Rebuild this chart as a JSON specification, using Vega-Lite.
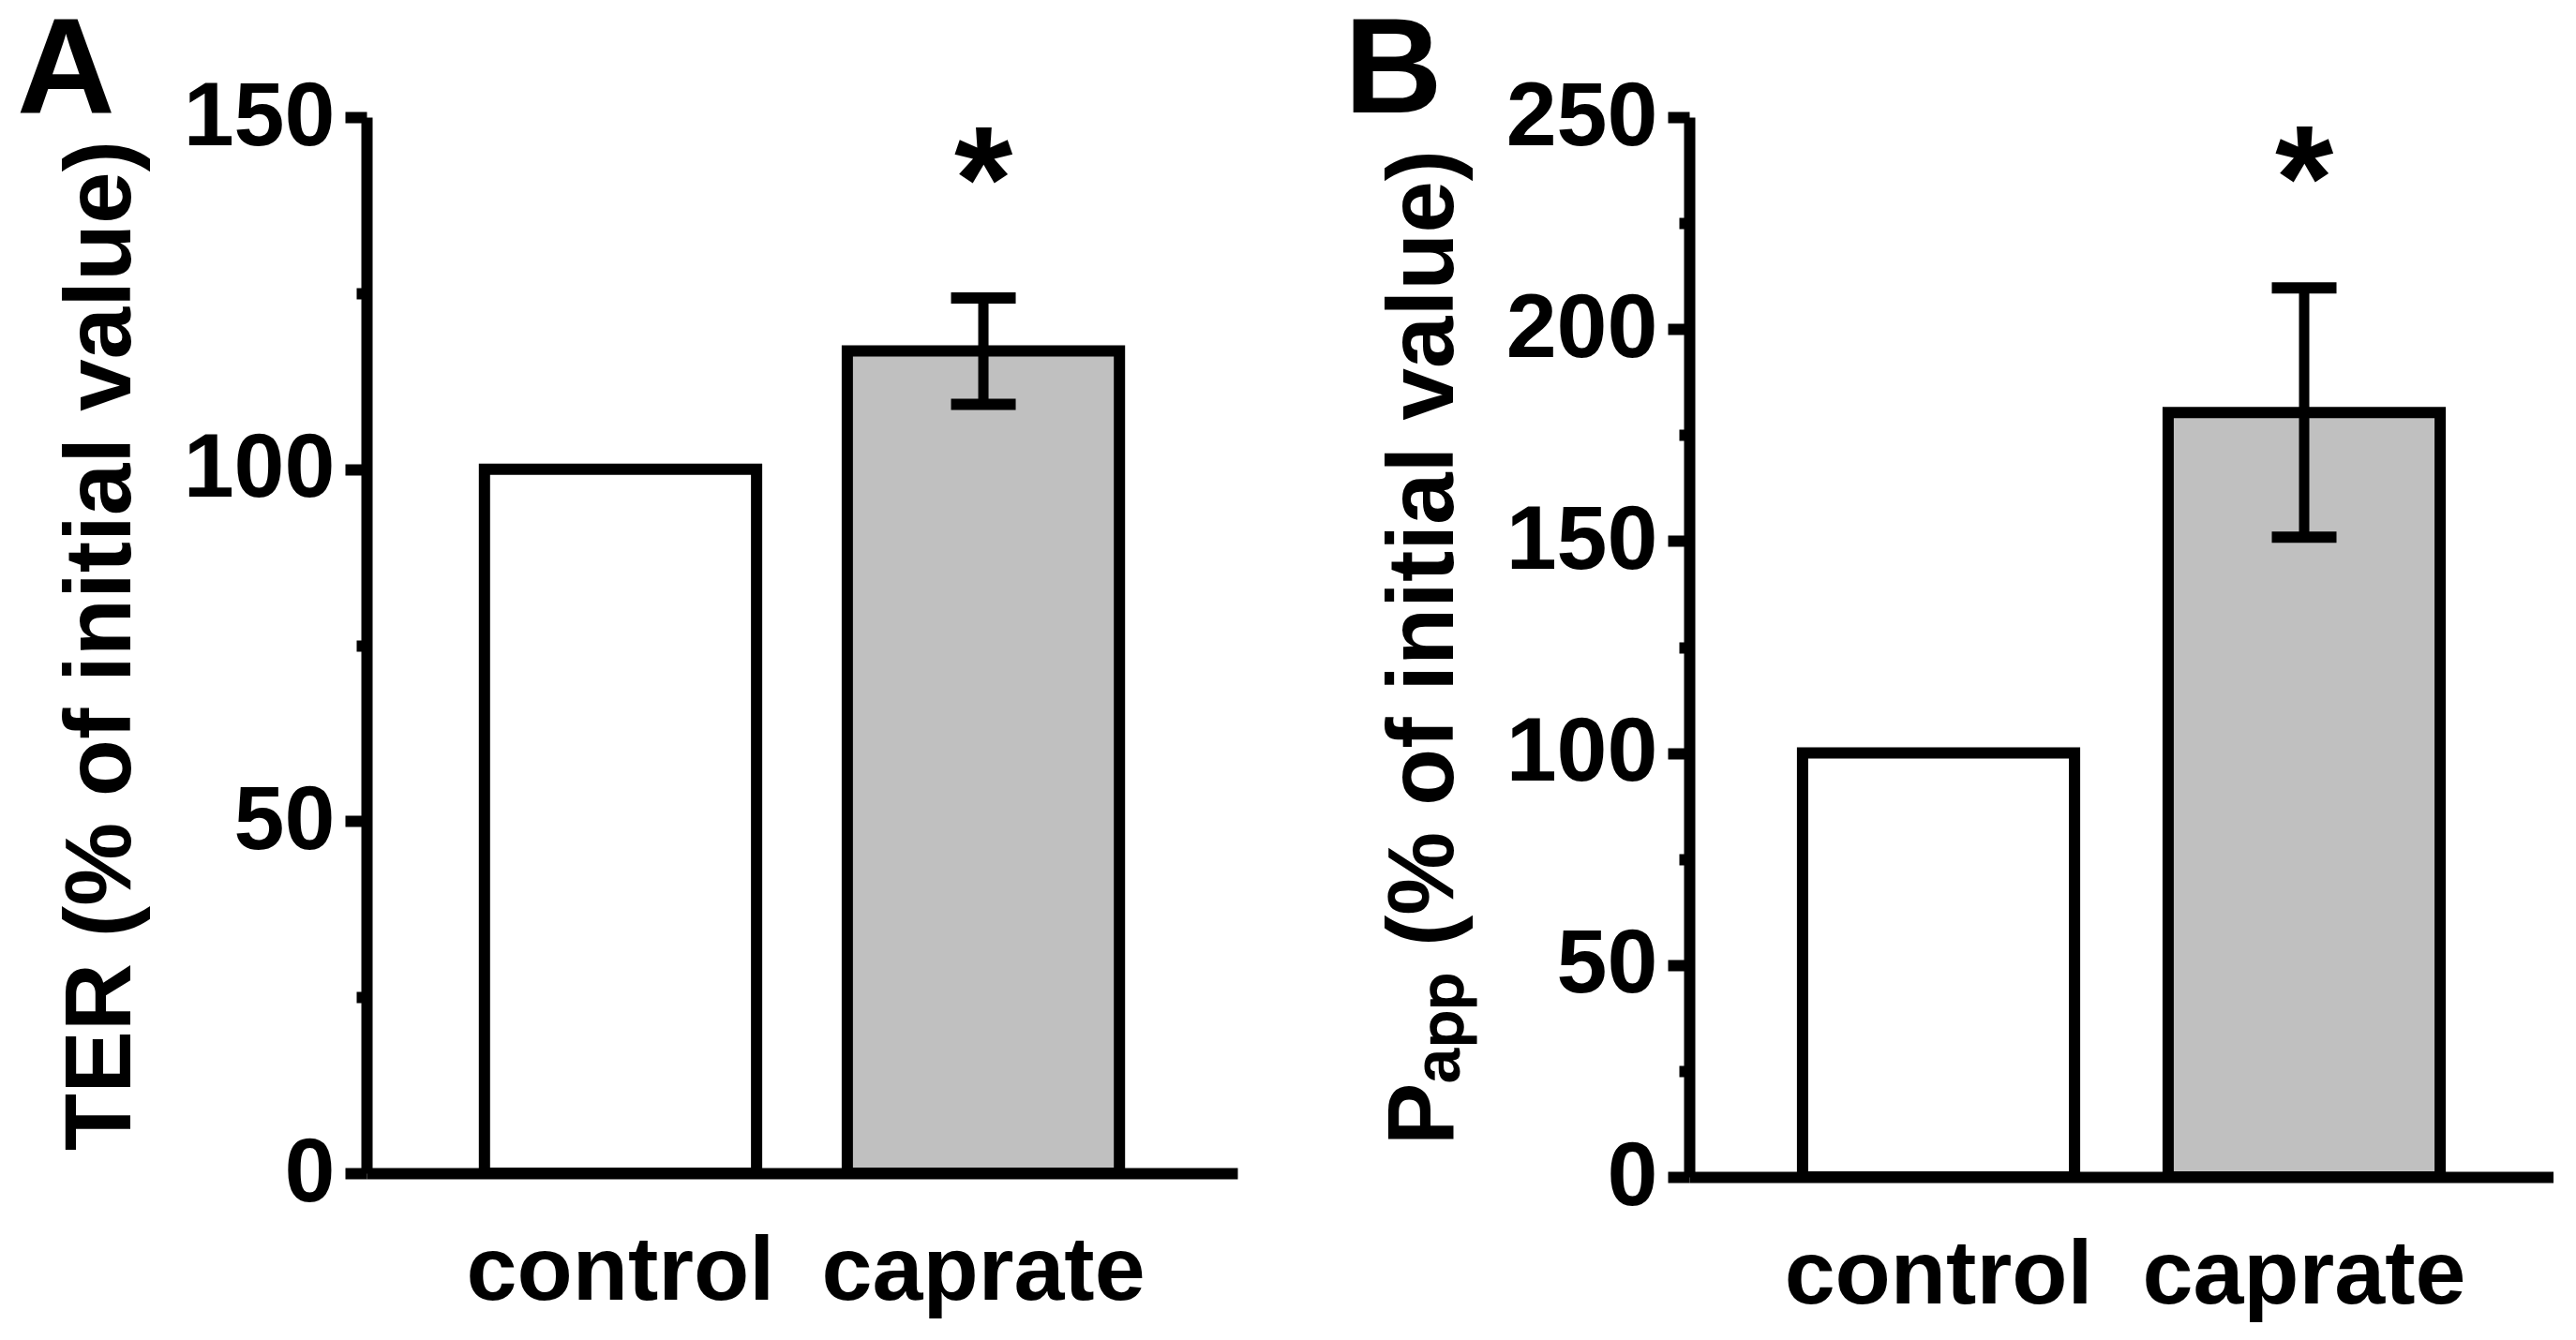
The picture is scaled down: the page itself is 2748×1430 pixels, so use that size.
{
  "$schema": "https://vega.github.io/schema/vega-lite/v6.json",
  "background": "white",
  "padding": {"left": 18, "top": 4, "right": 0, "bottom": 30},
  "autosize": {"type": "pad"},
  "spacing": 114,
  "config": {
    "view": {"stroke": null},
    "font": "Liberation Sans",
    "axis": {
      "labelFont": "Liberation Sans", "labelFontWeight": "bold", "labelColor": "black",
      "titleFont": "Liberation Sans", "titleFontWeight": "bold", "titleColor": "black",
      "domainColor": "black", "tickColor": "black", "grid": false, "labelLimit": 0
    },
    "title": {"font": "Liberation Sans", "fontWeight": "bold", "fontSize": 145, "anchor": "start", "frame": "group", "color": "black"}
  },
  "hconcat": [
    {
      "width": 929, "height": 1127,
      "title": {"text": "A", "dx": -373, "dy": 78},
      "data": {"values": [
        {"group": "control", "value": 100},
        {"group": "caprate", "value": 116.8, "low": 109.2, "high": 124.3, "sig": "*"}
      ]},
      "encoding": {
        "x": {"field": "group", "type": "nominal", "sort": ["control", "caprate"],
          "scale": {"paddingInner": 0.25, "paddingOuter": 0.325},
          "axis": {"title": null, "labelAngle": 0, "ticks": false, "domainWidth": 12, "labelFontSize": 97, "labelPadding": 57}}
      },
      "layer": [
        {"mark": {"type": "bar", "stroke": "black", "strokeWidth": 12},
         "encoding": {
           "y": {"field": "value", "type": "quantitative", "scale": {"domain": [0, 150], "nice": false},
             "axis": {"values": [0, 25, 50, 75, 100, 125, 150],
               "labelExpr": "datum.value % 50 === 0 ? datum.label : ''",
               "tickSize": {"condition": {"test": "datum.value % 50 === 0", "value": 23}, "value": 11},
               "tickWidth": 12, "domainWidth": 12, "labelFontSize": 97, "labelPadding": 11,
               "title": "TER (% of initial value)", "titleFontSize": 100, "titlePadding": 36}},
           "fill": {"field": "group", "type": "nominal", "scale": {"domain": ["control", "caprate"], "range": ["white", "#c0c0c0"]}, "legend": null}
         }},
        {"mark": {"type": "rule", "strokeWidth": 11, "color": "black"},
         "encoding": {"y": {"field": "low", "type": "quantitative"}, "y2": {"field": "high"}}},
        {"mark": {"type": "tick", "size": 69, "thickness": 12, "color": "black", "opacity": 1},
         "encoding": {"y": {"field": "low", "type": "quantitative"}}},
        {"mark": {"type": "tick", "size": 69, "thickness": 12, "color": "black", "opacity": 1},
         "encoding": {"y": {"field": "high", "type": "quantitative"}}},
        {"mark": {"type": "text", "fontSize": 160, "fontWeight": "bold", "baseline": "alphabetic", "dy": -72, "color": "black"},
         "encoding": {"y": {"field": "high", "type": "quantitative"}, "text": {"field": "sig"}}}
      ]
    },
    {
      "width": 922, "height": 1131,
      "title": {"text": "B", "dx": -368, "dy": 78},
      "data": {"values": [
        {"group": "control", "value": 100},
        {"group": "caprate", "value": 180.3, "low": 150.9, "high": 209.7, "sig": "*"}
      ]},
      "encoding": {
        "x": {"field": "group", "type": "nominal", "sort": ["control", "caprate"],
          "scale": {"paddingInner": 0.256, "paddingOuter": 0.31},
          "axis": {"title": null, "labelAngle": 0, "ticks": false, "domainWidth": 12, "labelFontSize": 97, "labelPadding": 57}}
      },
      "layer": [
        {"mark": {"type": "bar", "stroke": "black", "strokeWidth": 12},
         "encoding": {
           "y": {"field": "value", "type": "quantitative", "scale": {"domain": [0, 250], "nice": false},
             "axis": {"values": [0, 25, 50, 75, 100, 125, 150, 175, 200, 225, 250],
               "labelExpr": "datum.value % 50 === 0 ? datum.label : ''",
               "tickSize": {"condition": {"test": "datum.value % 50 === 0", "value": 23}, "value": 11},
               "tickWidth": 12, "domainWidth": 12, "labelFontSize": 97, "labelPadding": 11,
               "title": "Pₐₚₚ (% of initial value)", "titleFontSize": 100, "titlePadding": 36}},
           "fill": {"field": "group", "type": "nominal", "scale": {"domain": ["control", "caprate"], "range": ["white", "#c0c0c0"]}, "legend": null}
         }},
        {"mark": {"type": "rule", "strokeWidth": 11, "color": "black"},
         "encoding": {"y": {"field": "low", "type": "quantitative"}, "y2": {"field": "high"}}},
        {"mark": {"type": "tick", "size": 69, "thickness": 12, "color": "black", "opacity": 1},
         "encoding": {"y": {"field": "low", "type": "quantitative"}}},
        {"mark": {"type": "tick", "size": 69, "thickness": 12, "color": "black", "opacity": 1},
         "encoding": {"y": {"field": "high", "type": "quantitative"}}},
        {"mark": {"type": "text", "fontSize": 160, "fontWeight": "bold", "baseline": "alphabetic", "dy": -62, "color": "black"},
         "encoding": {"y": {"field": "high", "type": "quantitative"}, "text": {"field": "sig"}}}
      ]
    }
  ]
}
